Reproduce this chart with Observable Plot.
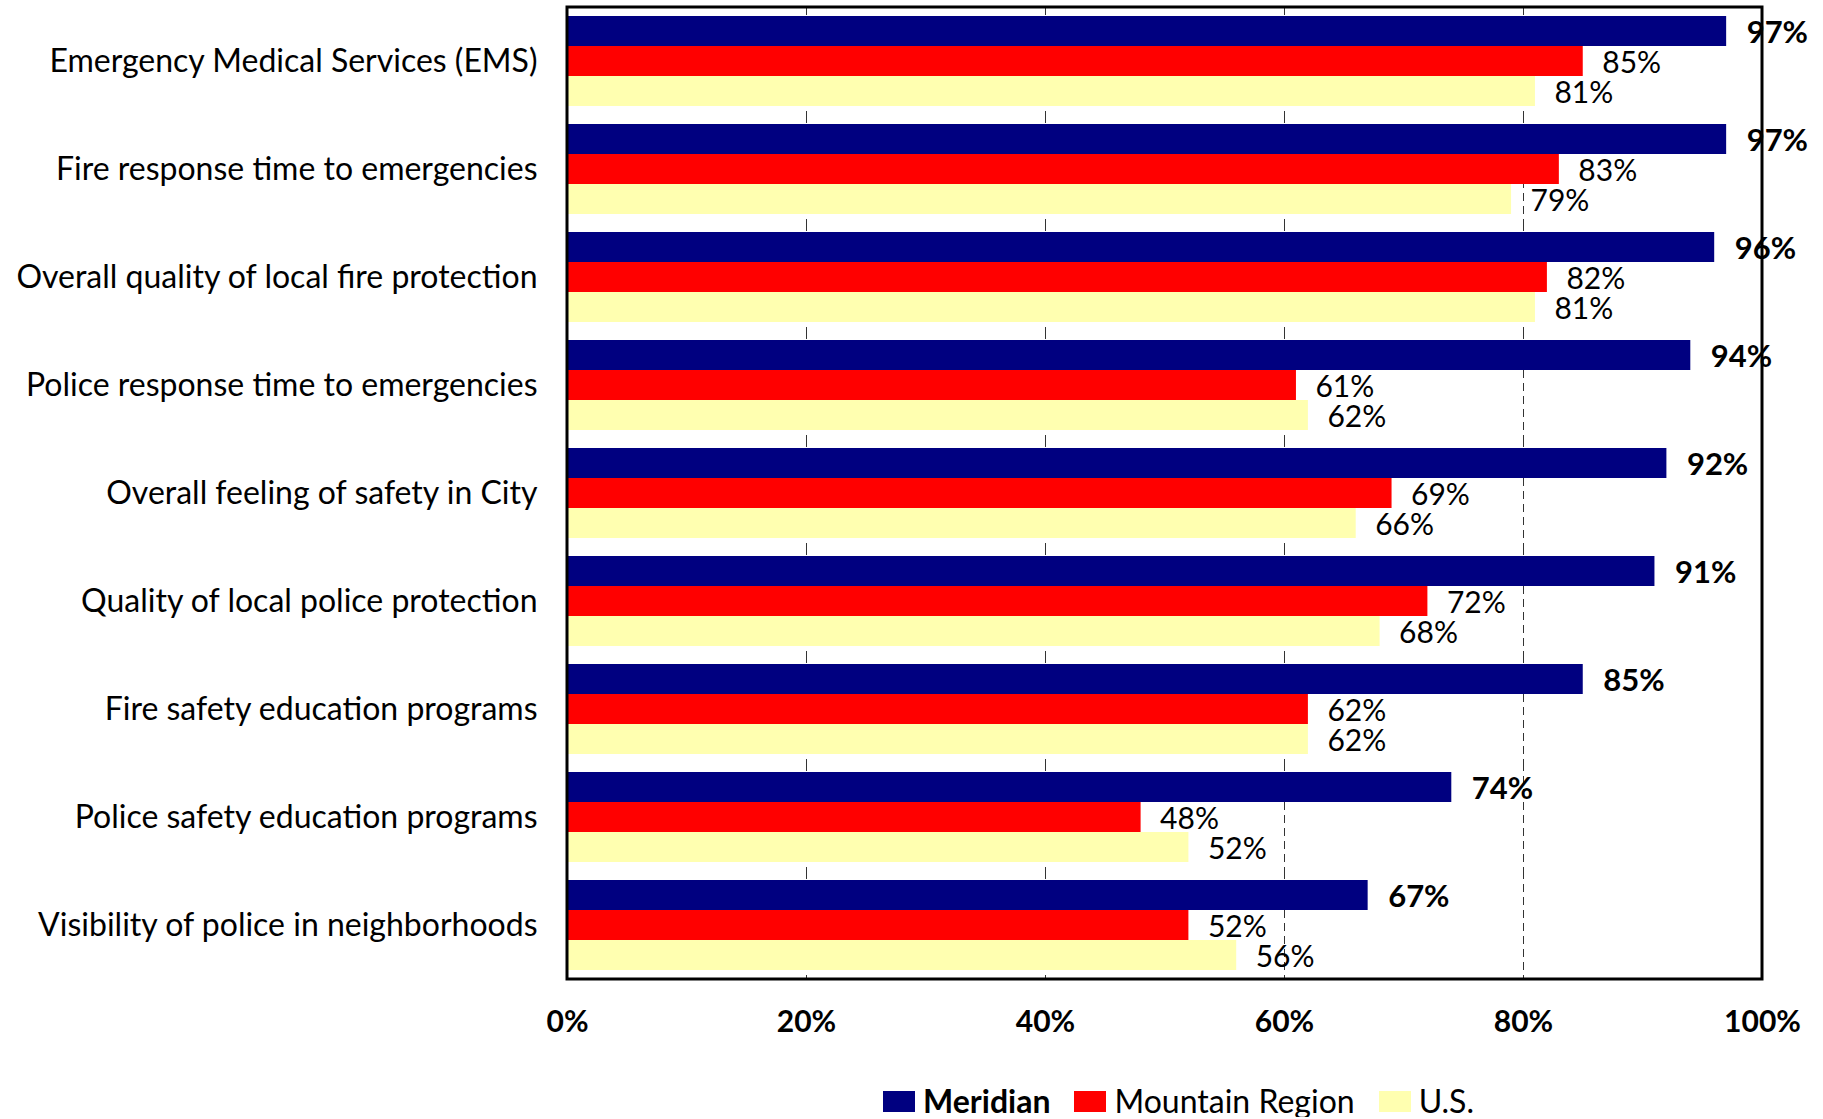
<!DOCTYPE html>
<html><head><meta charset="utf-8">
<script src="https://cdn.jsdelivr.net/npm/d3@7"></script>
<script src="https://cdn.jsdelivr.net/npm/@observablehq/plot@0.6"></script>
<style>
body{margin:0;background:#fff;font-family:Lato,sans-serif;color:#000;}
#legend{display:flex;align-items:center;margin-left:883px;margin-top:20px;font-size:32px;line-height:1;}
.sw{width:32px;height:21px;margin-right:8px;}
.item{display:flex;align-items:center;margin-right:24px;}
</style></head><body><div id="chart"></div><div id="legend"></div>
<script>
const categories = [
  "Emergency Medical Services (EMS)",
  "Fire response time to emergencies",
  "Overall quality of local fire protection",
  "Police response time to emergencies",
  "Overall feeling of safety in City",
  "Quality of local police protection",
  "Fire safety education programs",
  "Police safety education programs",
  "Visibility of police in neighborhoods"
];
const series = ["Meridian", "Mountain Region", "U.S."];
const meridian = [97, 97, 96, 94, 92, 91, 85, 74, 67];
const mountain = [85, 83, 82, 61, 69, 72, 62, 48, 52];
const us       = [81, 79, 81, 62, 66, 68, 62, 52, 56];
const colors = ["#000080", "#FF0000", "#FFFFB0"];
const xTicks = [0, 20, 40, 60, 80, 100];
const gridTicks = [20, 40, 60, 80];

const data = categories.flatMap((c, i) => [
  {category: c, series: series[0], value: meridian[i]},
  {category: c, series: series[1], value: mountain[i]},
  {category: c, series: series[2], value: us[i]}
]);

const W = 1823, H = 1065, ml = 567, mr = 61, mt = 7, mb = 86;
const plot = Plot.plot({
  width: W, height: H,
  marginLeft: ml, marginRight: mr, marginTop: mt, marginBottom: mb,
  style: {fontFamily: "Lato, sans-serif", background: "#fff", color: "#000", overflow: "visible"},
  x: {domain: [0, 100], axis: null},
  y: {domain: series, padding: 0, axis: null},
  fy: {domain: categories, paddingInner: 0.145, paddingOuter: 0.0725, axis: null},
  color: {domain: series, range: colors},
  marks: [
    Plot.ruleX(gridTicks, {stroke: "#333", strokeWidth: 1, strokeDasharray: "8,5", insetTop: -8, insetBottom: -8}),
    Plot.barX(data, {fy: "category", y: "series", x: "value", fill: "series"}),
    Plot.text(data.filter(d => d.series === series[0]), {fy: "category", y: "series", x: "value", text: d => d.value + "%", dx: 20, dy: 2, textAnchor: "start", fontSize: 31, fontWeight: "bold", fill: "#000"}),
    Plot.text(data.filter(d => d.series !== series[0]), {fy: "category", y: "series", x: "value", text: d => d.value + "%", dx: 19, dy: 2, textAnchor: "start", fontSize: 30, fill: "#000"}),
    Plot.axisFy({anchor: "left", tickSize: 0, tickPadding: 30, fontSize: 32, label: null}),
    Plot.axisX({ticks: xTicks, tickFormat: d => d + "%", tickSize: 0, tickPadding: 39, fontSize: 30, fontWeight: "bold", label: null})
  ]
});
const xr = plot.scale("x").range;
d3.select(plot).append("rect")
  .attr("x", xr[0]).attr("y", mt)
  .attr("width", xr[1] - xr[0]).attr("height", H - mt - mb)
  .attr("fill", "none").attr("stroke", "#000").attr("stroke-width", 3);
document.getElementById("chart").appendChild(plot);

const legend = document.getElementById("legend");
series.forEach((s, i) => {
  const it = document.createElement("div");
  it.className = "item";
  const sw = document.createElement("div");
  sw.className = "sw";
  sw.style.background = colors[i];
  const t = document.createElement("span");
  t.textContent = s;
  if (i === 0) t.style.fontWeight = "bold";
  it.appendChild(sw); it.appendChild(t);
  legend.appendChild(it);
});
</script></body></html>
